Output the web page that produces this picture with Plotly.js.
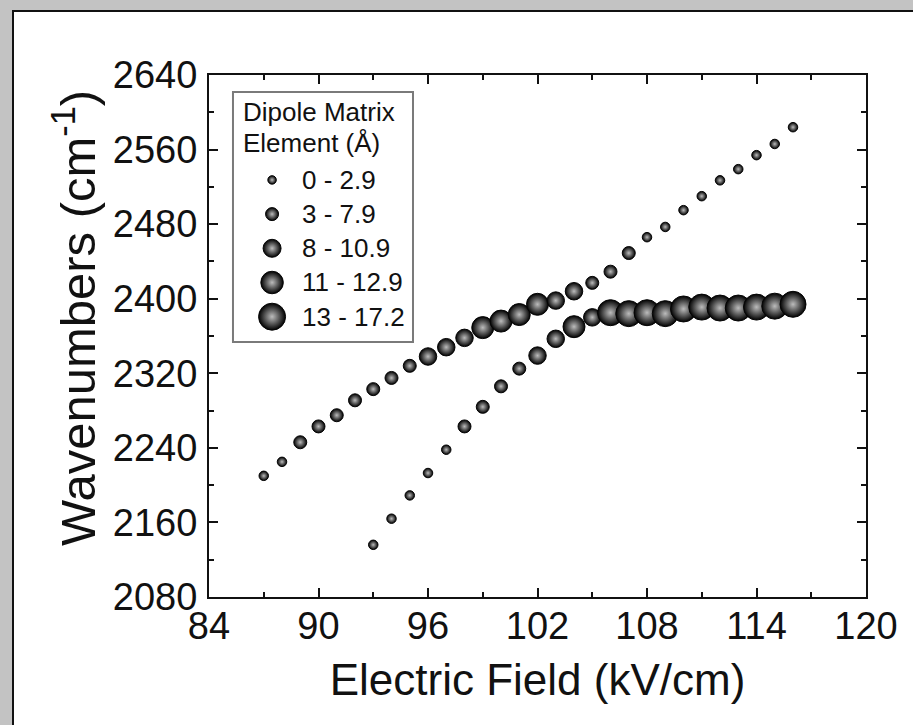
<!DOCTYPE html>
<html><head><meta charset="utf-8">
<script src="https://cdn.plot.ly/plotly-3.0.1.min.js"></script>
<style>
html,body{margin:0;padding:0;background:#c3c3c3;width:913px;height:725px;overflow:hidden;position:relative}
#frame{position:absolute;left:12px;top:10px;width:910px;height:725px;box-sizing:border-box;border:2px solid #111;background:#fff}
#chart{position:absolute;left:0;top:0;width:913px;height:725px}
</style></head><body>
<div id="frame"></div>
<div id="chart"></div>
<script>
// ---- data ----
const fieldUpper = [87,88,89,90,91,92,93,94,95,96,97,98,99,100,101,102,103,104,105,106,107,108,109,110,111,112,113,114,115,116];
const waveUpper  = [2210,2225,2246,2263,2275,2291,2303,2315,2328,2338,2348,2358,2369,2376,2383,2394,2398,2408,2417,2429,2449,2466,2477,2495,2510,2527,2539,2554,2566,2584];
const dipoleClassUpper = [0,0,1,1,1,1,1,1,1,2,2,2,3,3,3,3,2,2,1,1,1,0,0,0,0,0,0,0,0,0];

const fieldLower = [93,94,95,96,97,98,99,100,101,102,103,104,105,106,107,108,109,110,111,112,113,114,115,116];
const waveLower  = [2136,2164,2189,2213,2238,2263,2284,2306,2325,2339,2357,2370,2380,2385,2384,2385,2384,2389,2391,2390,2390,2391,2392,2394];
const dipoleClassLower = [0,0,0,0,0,1,1,1,1,2,2,3,2,4,4,4,4,4,4,4,4,4,4,4];

const dipoleClassLabels = ['0 - 2.9','3 - 7.9','8 - 10.9','11 - 12.9','13 - 17.2'];
const legendTitleLines = ['Dipole Matrix','Element (Å)'];
const xTitle = 'Electric Field (kV/cm)';
const yTitle = 'Wavenumbers (cm<sup>-1</sup>)';

// ---- style ----
const classSize = [9.5, 13, 17.5, 22, 26];
const legendClassSize = [8.5, 13, 18, 22.5, 27];
const ink = '#111111';
const family = '"Liberation Sans", Arial, sans-serif';
const ballMarker = sizes => ({
  size: sizes, color: '#000000', opacity: 1,
  gradient: {type: 'radial', color: '#bcbcbc'},
  line: {width: 1, color: '#050505'}
});

const upper = {
  type: 'scatter', mode: 'markers', x: fieldUpper, y: waveUpper,
  marker: ballMarker(dipoleClassUpper.map(c => classSize[c])),
  hoverinfo: 'x+y', showlegend: false, cliponaxis: false
};
const lower = {
  type: 'scatter', mode: 'markers', x: fieldLower, y: waveLower,
  marker: ballMarker(dipoleClassLower.map(c => classSize[c])),
  hoverinfo: 'x+y', showlegend: false, cliponaxis: false
};

// custom size legend on an invisible overlay axis pair (0..1 of plot area)
const legX = 0.096, legTop = 0.799, legStep = 0.0655;
const legendKeys = {
  type: 'scatter', mode: 'markers', xaxis: 'x2', yaxis: 'y2',
  x: dipoleClassLabels.map(() => legX),
  y: dipoleClassLabels.map((_, i) => legTop - i * legStep),
  marker: ballMarker(dipoleClassLabels.map((_, i) => legendClassSize[i])),
  hoverinfo: 'skip', showlegend: false, cliponaxis: false
};

const annotations = [];
legendTitleLines.forEach((t, i) => annotations.push({
  xref: 'paper', yref: 'paper', x: 0.049, y: 0.929 - i * 0.06,
  xanchor: 'left', yanchor: 'middle', showarrow: false, text: t,
  font: {family, size: 26, color: ink}
}));
dipoleClassLabels.forEach((t, i) => annotations.push({
  xref: 'paper', yref: 'paper', x: 0.1385, y: legTop - i * legStep,
  xanchor: 'left', yanchor: 'middle', showarrow: false, text: t,
  font: {family, size: 26, color: ink}
}));
// y-axis title, placed where the reference draws it
annotations.push({
  xref: 'paper', yref: 'paper', x: -0.205, y: 0.535,
  xanchor: 'center', yanchor: 'middle', textangle: -90, showarrow: false,
  text: yTitle, font: {family, size: 49, color: ink}
});

const axisCommon = {
  ticks: 'inside', ticklen: 9, tickwidth: 2, tickcolor: ink,
  showline: true, linewidth: 2, linecolor: ink, mirror: 'ticks',
  showgrid: false, zeroline: false,
  tickfont: {family, size: 38, color: ink}
};

const layout = {
  width: 913, height: 725,
  margin: {l: 209, r: 47, t: 75, b: 128, pad: 0},
  paper_bgcolor: 'rgba(0,0,0,0)', plot_bgcolor: '#ffffff',
  showlegend: false,
  xaxis: Object.assign({}, axisCommon, {
    range: [84, 120], tick0: 84, dtick: 6, ticklabelstandoff: -6,
    ticklabeloverflow: 'allow',
    minor: {dtick: 3, ticks: 'inside', ticklen: 5, tickwidth: 2, tickcolor: ink},
    title: {text: xTitle, font: {family, size: 44, color: ink}, standoff: 19},
    automargin: false
  }),
  yaxis: Object.assign({}, axisCommon, {
    range: [2080, 2640], tick0: 2080, dtick: 80, ticklabelstandoff: 2,
    ticklabeloverflow: 'allow',
    minor: {dtick: 40, ticks: 'inside', ticklen: 5, tickwidth: 2, tickcolor: ink},
    automargin: false
  }),
  xaxis2: {overlaying: 'x', range: [0, 1], visible: false, fixedrange: true},
  yaxis2: {overlaying: 'y', range: [0, 1], visible: false, fixedrange: true},
  shapes: [{
    type: 'rect', xref: 'paper', yref: 'paper', layer: 'below',
    x0: 0.0365, x1: 0.3105, y0: 0.4885, y1: 0.9674,
    line: {color: '#7a7a7a', width: 2}, fillcolor: '#ffffff'
  }],
  annotations
};

Plotly.newPlot('chart', [legendKeys, upper, lower], layout, {displayModeBar: false, staticPlot: true});
</script>
</body></html>
